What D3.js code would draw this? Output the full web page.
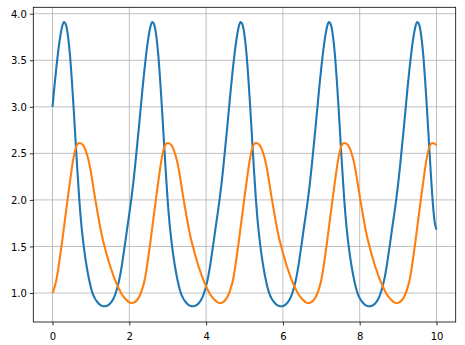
<!DOCTYPE html>
<html><head><meta charset="utf-8">
<script src="https://cdn.jsdelivr.net/npm/d3@7"></script>
<style>body{margin:0;background:#fff}svg{display:block}</style>
</head><body>
<svg id="c" width="465" height="345"></svg>
<script>
// sample times: t = 0, 0.05, ... 10
const tStep = 0.05;
const xTicks = [0, 2, 4, 6, 8, 10];
const yTicks = [1.0, 1.5, 2.0, 2.5, 3.0, 3.5, 4.0];

const blueSeries = [
  3.00,3.22,3.42,3.60,3.75,3.86,3.91,3.88,3.77,3.58,3.31,2.99,2.64,2.30,1.99,1.74,1.55,1.39,1.26,1.15,1.06,0.99,0.945,0.912,0.888,0.871,0.861,0.857,0.86,0.87,0.887,0.913,0.95,1.005,1.075,1.165,1.28,1.42,1.56,1.71,1.85,2.00,2.17,2.36,2.57,2.78,
  3.00,3.22,3.42,3.60,3.75,3.86,3.91,3.88,3.77,3.58,3.31,2.99,2.64,2.30,1.99,1.74,1.55,1.39,1.26,1.15,1.06,0.99,0.945,0.912,0.888,0.871,0.861,0.857,0.86,0.87,0.887,0.913,0.95,1.005,1.075,1.165,1.28,1.42,1.56,1.71,1.85,2.00,2.17,2.36,2.57,2.78,
  3.00,3.22,3.42,3.60,3.75,3.86,3.91,3.88,3.77,3.58,3.31,2.99,2.64,2.30,1.99,1.74,1.55,1.39,1.26,1.15,1.06,0.99,0.945,0.912,0.888,0.871,0.861,0.857,0.86,0.87,0.887,0.913,0.95,1.005,1.075,1.165,1.28,1.42,1.56,1.71,1.85,2.00,2.17,2.36,2.57,2.78,
  3.00,3.22,3.42,3.60,3.75,3.86,3.91,3.88,3.77,3.58,3.31,2.99,2.64,2.30,1.99,1.74,1.55,1.39,1.26,1.15,1.06,0.99,0.945,0.912,0.888,0.871,0.861,0.857,0.86,0.87,0.887,0.913,0.95,1.005,1.075,1.165,1.28,1.42,1.56,1.71,1.85,2.00,2.17,2.36,2.57,2.78,
  3.00,3.22,3.42,3.60,3.75,3.86,3.91,3.88,3.77,3.58,3.31,2.99,2.64,2.30,1.99,1.77,1.68
];

const orangeSeries = [
  1.00,1.06,1.14,1.26,1.40,1.55,1.71,1.87,2.03,2.18,2.33,2.46,2.55,2.60,2.61,2.605,2.585,2.545,2.485,2.405,2.30,2.17,2.04,1.92,1.80,1.69,1.59,1.51,1.43,1.36,1.29,1.23,1.17,1.12,1.07,1.03,0.99,0.96,0.935,0.915,0.90,0.893,0.895,0.905,0.925,0.955,
  1.00,1.06,1.14,1.26,1.40,1.55,1.71,1.87,2.03,2.18,2.33,2.46,2.55,2.60,2.61,2.605,2.585,2.545,2.485,2.405,2.30,2.17,2.04,1.92,1.80,1.69,1.59,1.51,1.43,1.36,1.29,1.23,1.17,1.12,1.07,1.03,0.99,0.96,0.935,0.915,0.90,0.893,0.895,0.905,0.925,0.955,
  1.00,1.06,1.14,1.26,1.40,1.55,1.71,1.87,2.03,2.18,2.33,2.46,2.55,2.60,2.61,2.605,2.585,2.545,2.485,2.405,2.30,2.17,2.04,1.92,1.80,1.69,1.59,1.51,1.43,1.36,1.29,1.23,1.17,1.12,1.07,1.03,0.99,0.96,0.935,0.915,0.90,0.893,0.895,0.905,0.925,0.955,
  1.00,1.06,1.14,1.26,1.40,1.55,1.71,1.87,2.03,2.18,2.33,2.46,2.55,2.60,2.61,2.605,2.585,2.545,2.485,2.405,2.30,2.17,2.04,1.92,1.80,1.69,1.59,1.51,1.43,1.36,1.29,1.23,1.17,1.12,1.07,1.03,0.99,0.96,0.935,0.915,0.90,0.893,0.895,0.905,0.925,0.955,
  1.00,1.06,1.14,1.26,1.40,1.55,1.71,1.87,2.03,2.18,2.33,2.46,2.55,2.60,2.61,2.605,2.585
];

const svg = d3.select("#c");
const L = 33.3, R = 455.7, T = 7.3, B = 322;
const x = d3.scaleLinear().domain([-0.5, 10.5]).range([L, R]);
const y = d3.scaleLinear().domain([0.6885, 4.069]).range([B, T]);
const font = "DejaVu Sans, sans-serif";

// grid
const grid = svg.append("g").attr("stroke", "#b0b0b0").attr("stroke-width", 0.8);
grid.selectAll(".gx").data(xTicks).join("line")
  .attr("x1", d => x(d)).attr("x2", d => x(d)).attr("y1", T).attr("y2", B);
grid.selectAll(".gy").data(yTicks).join("line")
  .attr("y1", d => y(d)).attr("y2", d => y(d)).attr("x1", L).attr("x2", R);

// lines
const line = d3.line()
  .x((d, i) => x(i * tStep))
  .y(d => y(d))
  .curve(d3.curveMonotoneX);

const clip = svg.append("clipPath").attr("id", "clp").append("rect")
  .attr("x", L).attr("y", T).attr("width", R - L).attr("height", B - T);

svg.append("path").datum(blueSeries).attr("d", line)
  .attr("fill", "none").attr("stroke", "#1f77b4").attr("stroke-width", 2.1)
  .attr("stroke-linejoin", "round").attr("stroke-linecap", "butt").attr("clip-path", "url(#clp)");
svg.append("path").datum(orangeSeries).attr("d", line)
  .attr("fill", "none").attr("stroke", "#ff7f0e").attr("stroke-width", 2.1)
  .attr("stroke-linejoin", "round").attr("stroke-linecap", "butt").attr("clip-path", "url(#clp)");

// axes
const xAxis = svg.append("g").attr("transform", `translate(0,${B})`)
  .call(d3.axisBottom(x).tickValues(xTicks).tickSize(3.5).tickSizeOuter(0).tickFormat(d3.format("d")));
xAxis.select(".domain").remove();
xAxis.selectAll("line").attr("stroke", "#000").attr("stroke-width", 0.8);
xAxis.selectAll("text").attr("y", 18).attr("dy", 0).attr("font-size", 10).attr("font-family", font).attr("fill", "#000");

const yAxis = svg.append("g").attr("transform", `translate(${L},0)`)
  .call(d3.axisLeft(y).tickValues(yTicks).tickSize(3.5).tickSizeOuter(0).tickFormat(d3.format(".1f")));
yAxis.select(".domain").remove();
yAxis.selectAll("line").attr("stroke", "#000").attr("stroke-width", 0.8);
yAxis.selectAll("text").attr("x", -6.5).attr("dy", "0.36em").attr("font-size", 10).attr("font-family", font).attr("fill", "#000");

// frame
svg.append("rect").attr("x", L).attr("y", T).attr("width", R - L).attr("height", B - T)
  .attr("fill", "none").attr("stroke", "#000").attr("stroke-width", 0.8);
</script>
</body></html>
